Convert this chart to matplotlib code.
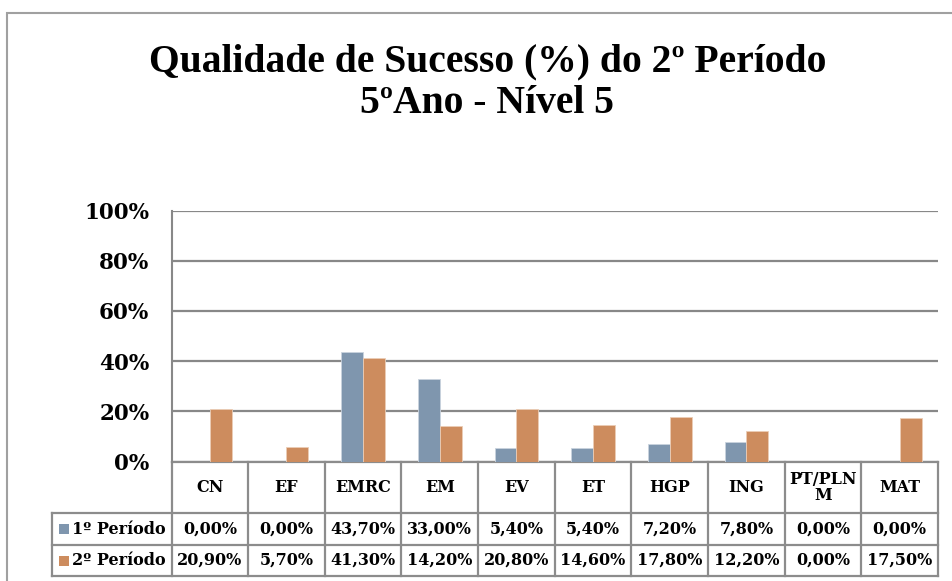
import matplotlib
matplotlib.use("Agg")
import matplotlib.pyplot as plt
from matplotlib.patches import Rectangle
from matplotlib.lines import Line2D

categories = ["CN", "EF", "EMRC", "EM", "EV", "ET", "HGP", "ING", "PT/PLN\nM", "MAT"]
series_names = ["1º Período", "2º Período"]
periodo1 = [0.0, 0.0, 43.7, 33.0, 5.4, 5.4, 7.2, 7.8, 0.0, 0.0]
periodo2 = [20.9, 5.7, 41.3, 14.2, 20.8, 14.6, 17.8, 12.2, 0.0, 17.5]
yticks = [0, 20, 40, 60, 80, 100]
title = "Qualidade de Sucesso (%) do 2º Período\n5ºAno - Nível 5"

colors = ["#7F96AE", "#CD8C5E"]
gridc = "#888888"
FONT = "DejaVu Serif"
TFONT = "Liberation Serif"

W, H = 952, 581
fig = plt.figure(figsize=(W / 100, H / 100), dpi=100)
fig.patch.set_facecolor("white")

# outer chart border
fig.add_artist(Rectangle((7 / W, -0.01), 1.0, 1 - 13 / H + 0.01, transform=fig.transFigure,
                         fill=False, edgecolor="#A0A0A0", linewidth=1.5))

L, R, T, B = 171.5, 938, 210.5, 461.7
ax = fig.add_axes([L / W, 1 - B / H, (R - L) / W, (B - T) / H])
n = len(categories)
x = list(range(n))
bw = 0.285
ax.bar([i - bw / 2 for i in x], periodo1, width=bw, color=colors[0], edgecolor="#C9D3DE",
       linewidth=0.6, zorder=3)
ax.bar([i + bw / 2 for i in x], periodo2, width=bw, color=colors[1], edgecolor="#EBCDB6",
       linewidth=0.6, zorder=3)
ax.set_xlim(-0.5, n - 0.5)
ax.set_ylim(0, 100)
ax.set_yticks(yticks)
ax.set_yticklabels([f"{v}%" for v in yticks], fontfamily=FONT, fontweight="bold", fontsize=15.5)
ax.tick_params(axis="y", length=0, pad=16)
ax.set_xticks([])
for s in ["top", "right", "bottom"]:
    ax.spines[s].set_visible(False)
ax.spines["left"].set_color(gridc)
ax.spines["left"].set_linewidth(1.5)
ax.yaxis.grid(True, color=gridc, linewidth=1.6)
ax.set_axisbelow(True)

# data table below the plot
tr = ax.get_xaxis_transform()
hpx = B - T
rows_px = [0, 513 - B, 545 - B, 576 - B]
ys = [-r / hpx for r in rows_px]
colpx = (R - L) / n
lab_left = -0.5 - (171.5 - 52) / colpx
lc = "#8C8C8C"
lw = 1.6

def hline(x0, x1, y):
    ax.add_line(Line2D([x0, x1], [y, y], transform=tr, color=lc, linewidth=lw, clip_on=False))

def vline(xv, y0, y1):
    ax.add_line(Line2D([xv, xv], [y0, y1], transform=tr, color=lc, linewidth=lw, clip_on=False))

hline(-0.5, n - 0.5, ys[0])
hline(lab_left, n - 0.5, ys[1])
hline(lab_left, n - 0.5, ys[2])
hline(lab_left, n - 0.5, ys[3])
for i in range(n + 1):
    vline(i - 0.5, ys[0], ys[3])
vline(lab_left, ys[1], ys[3])

tf = dict(fontfamily=FONT, fontweight="bold", fontsize=11.5, ha="center", va="center",
          transform=tr, clip_on=False)
for i, c in enumerate(categories):
    ax.text(i, (ys[0] + ys[1]) / 2, c, linespacing=0.95, **tf)

def fmt(v):
    return f"{v:.2f}%".replace(".", ",")

for r, vals in enumerate([periodo1, periodo2]):
    yc = (ys[r + 1] + ys[r + 2]) / 2
    for i, v in enumerate(vals):
        ax.text(i, yc, fmt(v), **tf)
    sq_w = 10 / colpx
    sq_h = 10 / hpx
    ax.add_patch(Rectangle((lab_left + 7 / colpx, yc - sq_h / 2), sq_w, sq_h, transform=tr,
                           facecolor=colors[r], edgecolor="none", clip_on=False))
    ax.text(lab_left + 20 / colpx, yc, series_names[r], fontfamily=FONT, fontweight="bold",
            fontsize=11.5, ha="left", va="center", transform=tr, clip_on=False)

lines = title.split("\n")
fig.text(487.5 / W, 1 - 71 / H, lines[0], ha="center", va="baseline", fontfamily=TFONT,
         fontweight="bold", fontsize=28.5)
fig.text(487.5 / W, 1 - 113 / H, lines[1], ha="center", va="baseline", fontfamily=TFONT,
         fontweight="bold", fontsize=28.5)

fig.savefig("out.png", dpi=100, facecolor="white")
